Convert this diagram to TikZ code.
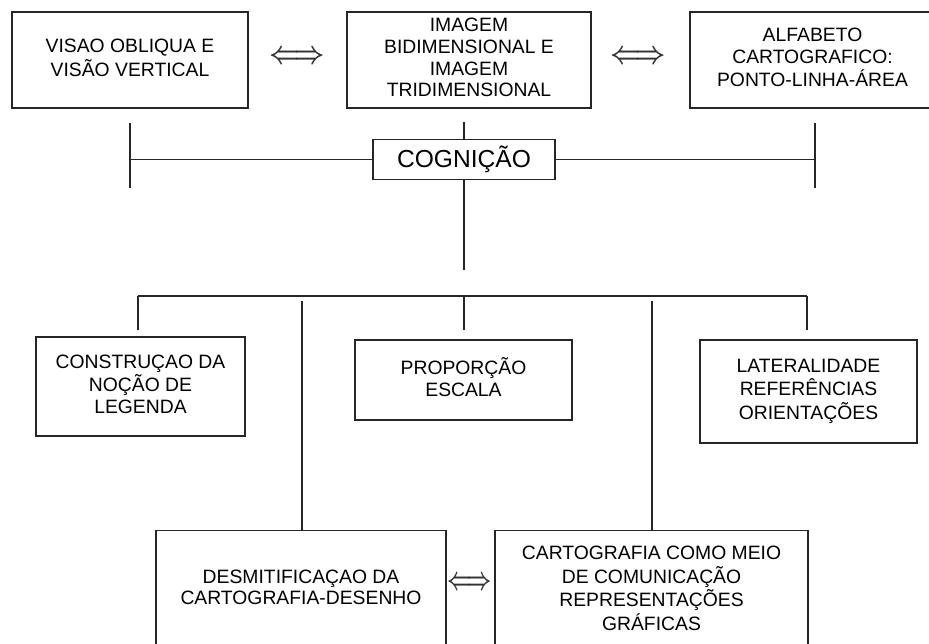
\documentclass[tikz,border=0pt]{standalone}
\usepackage{fontspec}
\setmainfont{Liberation Sans}
\usepackage{tikz}
\usetikzlibrary{positioning}

\begin{document}
\begin{tikzpicture}[
    line width=0.8pt,
    font=\fontsize{11}{12.3}\selectfont,
    bloco/.style={
		rectangle,
		draw=black!85,
		text centered,
		inner sep=0pt,
		fill=white
	},
	seta/.style={
		xscale=1.5,
		yscale=1.8,
		text=black!80,
		font=\boldmath
	},
	linha/.style={
		draw=black!85
	}
  ]
  \useasboundingbox (0,0) rectangle (18.58,-12.86);
  \clip (0,0) rectangle (18.58,-12.86);

    % We start by placing the blocks
  \node [bloco, minimum width=4.72cm, minimum height=1.92cm] (visao) at (2.6,-1.2)
 {%
 \begin{tabular}{c}
  VISAO OBLIQUA E\\
  VISÃO VERTICAL
 \end{tabular}
 };

  \node [bloco, minimum width=4.88cm, minimum height=1.92cm] (imagem) at (9.38,-1.2)
 {%
 \begin{tabular}{c}
  IMAGEM\\
  BIDIMENSIONAL E\\
  IMAGEM\\
  TRIDIMENSIONAL
 \end{tabular}
 };

  \node [bloco, minimum width=4.9cm, minimum height=1.92cm] (alfabeto) at (16.25,-1.2)
 {%
 \begin{tabular}{c}
  ALFABETO\\
  CARTOGRAFICO:\\
  PONTO-LINHA-ÁREA
 \end{tabular}
 };

  \node [seta] (seta1) at (5.94,-1.14) {$\Longleftrightarrow$};
  \node [seta] (seta2) at (12.76,-1.14) {$\Longleftrightarrow$};

  \node [bloco, minimum width=3.64cm, minimum height=0.8cm,
         font=\fontsize{14}{16}\selectfont] (cognicao) at (9.28,-3.19) {COGNIÇÃO};

  % second row
  \node [bloco, minimum width=4.18cm, minimum height=1.98cm] (legenda) at (2.81,-7.73)
 {%
 \begin{tabular}{c}
  CONSTRUÇAO DA\\
  NOÇÃO DE\\
  LEGENDA
 \end{tabular}
 };

  \node [bloco, minimum width=4.34cm, minimum height=1.6cm] (escala) at (9.27,-7.6)
 {%
 \begin{tabular}{c}
  PROPORÇÃO\\
  ESCALA
 \end{tabular}
 };

  \node [bloco, minimum width=4.34cm, minimum height=2.06cm] (lateral) at (16.17,-7.83)
 {%
 \begin{tabular}{c}
  LATERALIDADE\\
  REFERÊNCIAS\\
  ORIENTAÇÕES
 \end{tabular}
 };

  % bottom row
  \node [bloco, minimum width=5.8cm, minimum height=2.36cm, anchor=north] (desenho) at (6.02,-10.6)
 {%
 \begin{tabular}{c}
  DESMITIFICAÇAO DA\\
  CARTOGRAFIA-DESENHO
 \end{tabular}
 };

  \node [bloco, minimum width=6.26cm, minimum height=2.4cm, anchor=north] (comunicacao) at (13.03,-10.6)
 {%
 \begin{tabular}{c}
  CARTOGRAFIA COMO MEIO\\
  DE COMUNICAÇÃO\\
  REPRESENTAÇÕES\\
  GRÁFICAS
 \end{tabular}
 };

  \node [seta, xscale=0.8] (seta3) at (9.4,-11.66) {$\Longleftrightarrow$};

  % the lines
  \coordinate (esqA) at (2.6,-2.46);
  \coordinate (esqB) at (2.6,-3.76);
  \coordinate (esqM) at (2.6,-3.19);
  \coordinate (dirA) at (16.3,-2.46);
  \coordinate (dirB) at (16.3,-3.76);
  \coordinate (dirM) at (16.3,-3.19);
  \coordinate (centroA) at (9.28,-2.44);
  \coordinate (centroB) at (9.28,-5.4);

  \draw [linha] (esqA) -- (esqB);
  \draw [linha] (dirA) -- (dirB);
  \draw [linha] (esqM) -- (cognicao.west);
  \draw [linha] (cognicao.east) -- (dirM);
  \draw [linha] (centroA) -- (cognicao.north);
  \draw [linha] (cognicao.south) -- (centroB);

  \coordinate (barraE) at (2.76,-5.92);
  \coordinate (barraC) at (9.28,-5.92);
  \coordinate (barraD) at (16.14,-5.92);
  \coordinate (descE) at (2.76,-6.6);
  \coordinate (descC) at (9.28,-6.6);
  \coordinate (descD) at (16.14,-6.6);

  \draw [linha] (barraE) -- (barraD);
  \draw [linha] (barraE) -- (descE);
  \draw [linha] (barraC) -- (descC);
  \draw [linha] (barraD) -- (descD);

  \coordinate (longaE) at (6.04,-6.02);
  \coordinate (longaD) at (13.04,-6.02);
  \draw [linha] (longaE) -- (longaE |- desenho.north);
  \draw [linha] (longaD) -- (longaD |- comunicacao.north);

\end{tikzpicture}
\end{document}
